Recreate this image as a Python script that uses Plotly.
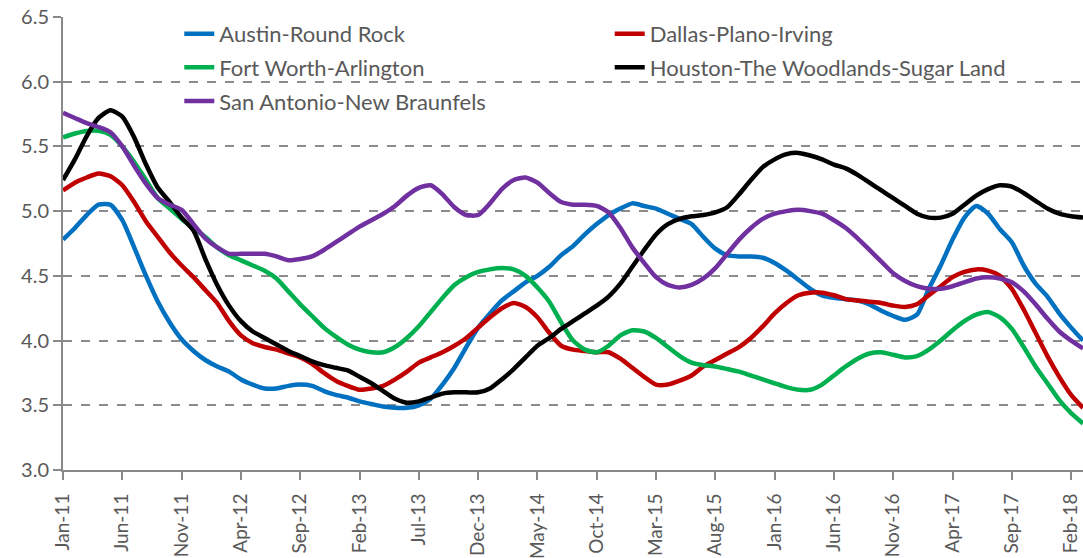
import plotly.graph_objects as go

months = ["Jan", "Feb", "Mar", "Apr", "May", "Jun", "Jul", "Aug", "Sep", "Oct", "Nov", "Dec"]
categories = [f"{months[i % 12]}-{11 + i // 12}" for i in range(87)]  # Jan-11 .. Mar-18
tick_labels = categories[::5]

austin = [4.78, 4.87, 4.97, 5.05, 5.05, 4.93, 4.72, 4.50, 4.30, 4.14, 4.01, 3.92, 3.85, 3.80, 3.76, 3.70,
          3.66, 3.63, 3.63, 3.65, 3.66, 3.65, 3.61, 3.58, 3.56, 3.53, 3.51, 3.49, 3.48, 3.48, 3.50, 3.55,
          3.66, 3.79, 3.95, 4.10, 4.21, 4.31, 4.38, 4.45, 4.50, 4.57, 4.66, 4.73, 4.82, 4.90, 4.97, 5.02,
          5.06, 5.04, 5.02, 4.98, 4.94, 4.90, 4.80, 4.71, 4.66, 4.65, 4.65, 4.64, 4.60, 4.54, 4.47, 4.40,
          4.35, 4.33, 4.32, 4.31, 4.28, 4.23, 4.19, 4.16, 4.20, 4.40, 4.58, 4.78, 4.95, 5.04, 4.98, 4.86,
          4.76, 4.58, 4.44, 4.34, 4.21, 4.10, 4.00]
dallas = [5.16, 5.22, 5.26, 5.29, 5.27, 5.20, 5.07, 4.92, 4.80, 4.68, 4.58, 4.49, 4.39, 4.29, 4.15, 4.04,
          3.98, 3.95, 3.93, 3.90, 3.87, 3.82, 3.75, 3.69, 3.65, 3.62, 3.63, 3.65, 3.70, 3.76, 3.83, 3.87,
          3.91, 3.96, 4.02, 4.10, 4.18, 4.25, 4.29, 4.26, 4.18, 4.06, 3.96, 3.93, 3.92, 3.91, 3.91, 3.86,
          3.79, 3.72, 3.66, 3.66, 3.69, 3.73, 3.80, 3.85, 3.90, 3.95, 4.02, 4.11, 4.21, 4.29, 4.35, 4.37,
          4.37, 4.35, 4.32, 4.31, 4.30, 4.29, 4.27, 4.26, 4.28, 4.35, 4.42, 4.49, 4.53, 4.55, 4.54, 4.50,
          4.40, 4.24, 4.06, 3.88, 3.72, 3.58, 3.48]
fort_worth = [5.57, 5.60, 5.62, 5.62, 5.59, 5.50, 5.38, 5.24, 5.10, 5.02, 4.94, 4.87, 4.80, 4.72, 4.66, 4.62,
              4.58, 4.54, 4.48, 4.38, 4.28, 4.19, 4.10, 4.03, 3.97, 3.93, 3.91, 3.91, 3.95, 4.02, 4.11, 4.22,
              4.33, 4.43, 4.49, 4.53, 4.55, 4.56, 4.55, 4.50, 4.41, 4.30, 4.14, 4.00, 3.93, 3.91, 3.96, 4.04,
              4.08, 4.07, 4.02, 3.95, 3.88, 3.83, 3.81, 3.80, 3.78, 3.76, 3.73, 3.70, 3.67, 3.64, 3.62, 3.62,
              3.66, 3.73, 3.80, 3.86, 3.90, 3.91, 3.89, 3.87, 3.88, 3.93, 4.00, 4.08, 4.15, 4.20, 4.22, 4.18,
              4.09, 3.95, 3.80, 3.67, 3.54, 3.44, 3.36]
houston = [5.24, 5.40, 5.58, 5.72, 5.78, 5.73, 5.57, 5.36, 5.18, 5.07, 4.95, 4.85, 4.63, 4.43, 4.27, 4.15,
           4.07, 4.02, 3.97, 3.92, 3.88, 3.84, 3.81, 3.79, 3.77, 3.72, 3.67, 3.61, 3.55, 3.52, 3.53, 3.56,
           3.59, 3.60, 3.60, 3.60, 3.63, 3.70, 3.78, 3.87, 3.96, 4.02, 4.09, 4.15, 4.21, 4.27, 4.34, 4.44,
           4.57, 4.70, 4.82, 4.90, 4.94, 4.96, 4.97, 4.99, 5.03, 5.13, 5.24, 5.34, 5.40, 5.44, 5.45, 5.43,
           5.40, 5.36, 5.33, 5.28, 5.22, 5.16, 5.10, 5.04, 4.98, 4.95, 4.95, 4.98, 5.05, 5.12, 5.17, 5.20,
           5.19, 5.14, 5.08, 5.02, 4.98, 4.96, 4.95]
san_antonio = [5.76, 5.72, 5.68, 5.65, 5.61, 5.50, 5.35, 5.21, 5.10, 5.05, 5.01, 4.90, 4.79, 4.72, 4.67, 4.67,
               4.67, 4.67, 4.65, 4.62, 4.63, 4.65, 4.70, 4.76, 4.82, 4.88, 4.93, 4.98, 5.04, 5.12, 5.18, 5.20,
               5.13, 5.03, 4.97, 4.97, 5.06, 5.17, 5.24, 5.26, 5.22, 5.14, 5.07, 5.05, 5.05, 5.04, 4.99, 4.87,
               4.72, 4.60, 4.49, 4.43, 4.41, 4.43, 4.48, 4.56, 4.67, 4.78, 4.87, 4.94, 4.98, 5.00, 5.01, 5.00,
               4.98, 4.93, 4.87, 4.79, 4.70, 4.61, 4.52, 4.46, 4.42, 4.40, 4.40, 4.42, 4.45, 4.48, 4.49, 4.48,
               4.45, 4.38, 4.28, 4.17, 4.07, 4.00, 3.94]

series = [
    ("Austin-Round Rock", austin, "#0070C0", "legend"),
    ("Dallas-Plano-Irving", dallas, "#C00000", "legend2"),
    ("Fort Worth-Arlington", fort_worth, "#00B050", "legend"),
    ("Houston-The Woodlands-Sugar Land", houston, "#000000", "legend2"),
    ("San Antonio-New Braunfels", san_antonio, "#7030A0", "legend"),
]

fig = go.Figure()
for name, vals, color, leg in series:
    fig.add_trace(go.Scatter(x=categories, y=vals, name=name, mode="lines", legend=leg,
                             legendgroup=name,
                             line=dict(color=color, width=4.5, shape="spline", smoothing=0.6)))

font_family = "Lato, 'Open Sans', sans-serif"
leg_common = dict(orientation="v", y=1.009, xanchor="left", yanchor="top",
                  bgcolor="rgba(0,0,0,0)", font=dict(size=22, color="#595959"),
                  tracegroupgap=2, itemwidth=30)
fig.update_layout(
    width=1083, height=558,
    margin=dict(l=63, r=0, t=17, b=88),
    plot_bgcolor="white", paper_bgcolor="white",
    font=dict(family=font_family, size=20, color="#595959"),
    legend=dict(x=0.114, **leg_common),
    legend2=dict(x=0.536, **leg_common),
    showlegend=True,
)
fig.update_xaxes(type="category", range=[0, 86], tickmode="array", tickvals=tick_labels,
                 ticktext=tick_labels, tickangle=-90, showgrid=False, showline=True,
                 linecolor="#898989", linewidth=2, ticks="outside", ticklen=8, tickwidth=2,
                 tickcolor="#898989", tickfont=dict(size=19, color="#595959"), automargin=False,
                 ticklabelstandoff=6)
fig.update_yaxes(range=[3, 6.5], dtick=0.5, tickformat=".1f", showgrid=True, gridcolor="#8c8c8c",
                 griddash="dash", gridwidth=1.5, showline=True, linecolor="#898989", linewidth=2,
                 ticks="outside", ticklen=8, tickwidth=2, tickcolor="#898989", zeroline=False,
                 tickfont=dict(size=20, color="#595959"), automargin=False)

fig.write_html("out.html", config={"displayModeBar": False},
               post_script="document.body.style.margin='0';document.body.style.overflow='hidden';")
